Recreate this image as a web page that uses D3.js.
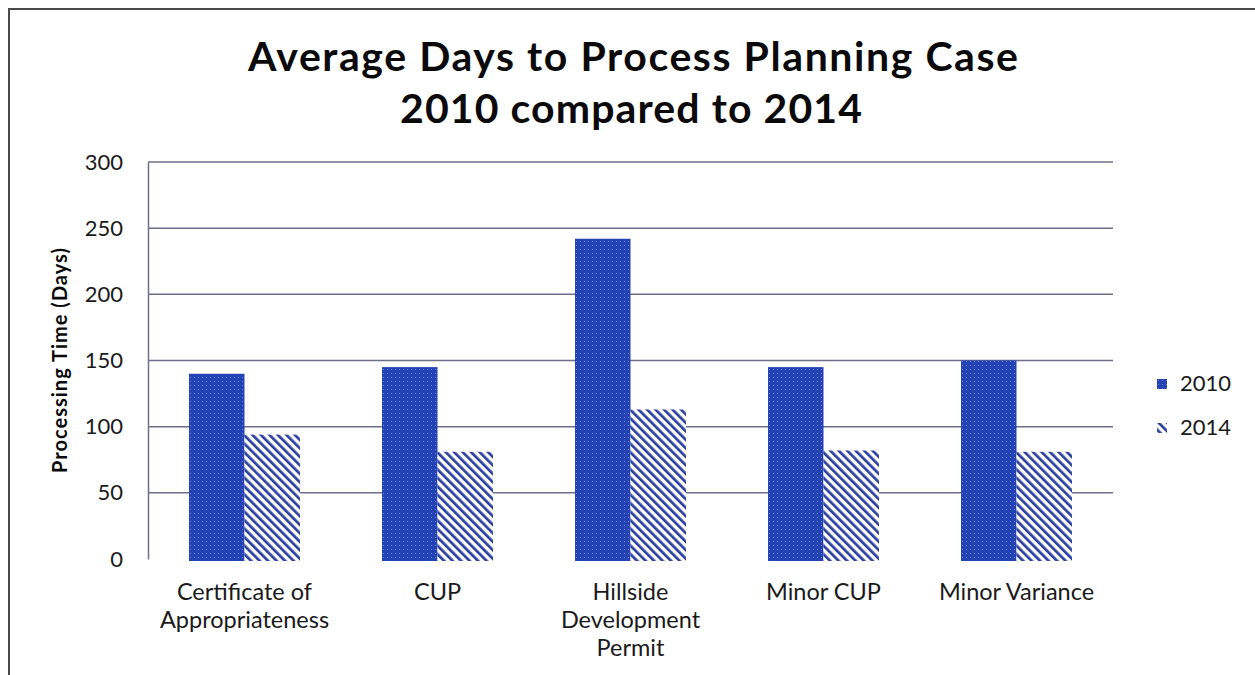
<!DOCTYPE html>
<html>
<head>
<meta charset="utf-8">
<script src="https://cdn.jsdelivr.net/npm/d3@7"></script>
<style>
  html, body { margin: 0; padding: 0; background: #fff; }
  svg { display: block; }
  text { font-family: Lato, "Open Sans", sans-serif; }
</style>
</head>
<body>
<svg id="chart" width="1255" height="675"></svg>
<script>
// Average processing days per planning case type
const categories = [
  ["Certificate of", "Appropriateness"],
  ["CUP"],
  ["Hillside", "Development", "Permit"],
  ["Minor CUP"],
  ["Minor Variance"]
];
const seriesNames = ["2010", "2014"];
const values2010 = [140, 145, 242, 145, 150];
const values2014 = [94, 81, 113, 82, 81];
const yTicks = [0, 50, 100, 150, 200, 250, 300];

const svg = d3.select("#chart");
const W = 1255, H = 675;

// pattern fills for the two series
const defs = svg.append("defs");
const dots = defs.append("pattern")
  .attr("id", "pat2010").attr("patternUnits", "userSpaceOnUse")
  .attr("width", 4).attr("height", 4);
dots.append("rect").attr("width", 4).attr("height", 4).attr("fill", "#2343b4");
dots.append("rect").attr("x", 1).attr("y", 1).attr("width", 1).attr("height", 1).attr("fill", "#6d86dc");

const hatch = defs.append("pattern")
  .attr("id", "pat2014").attr("patternUnits", "userSpaceOnUse")
  .attr("width", 6).attr("height", 6)
  .attr("patternTransform", "rotate(-45)");
hatch.append("rect").attr("width", 6).attr("height", 6).attr("fill", "#ffffff");
hatch.append("rect").attr("x", 0).attr("y", 0).attr("width", 2.7).attr("height", 6).attr("fill", "#2b3f9e");

// outer frame (top and left edges visible)
svg.append("rect")
  .attr("x", 9).attr("y", 9).attr("width", W + 20).attr("height", H + 20)
  .attr("fill", "none").attr("stroke", "#4a4a4a").attr("stroke-width", 2);

// title
const title = svg.append("text")
  .attr("text-anchor", "middle")
  .attr("font-weight", "bold").attr("font-size", 41).attr("fill", "#0a0a0a");
title.append("tspan").attr("x", 633).attr("y", 71)
  .attr("textLength", 770).attr("lengthAdjust", "spacing")
  .text("Average Days to Process Planning Case");
title.append("tspan").attr("x", 631).attr("y", 123)
  .attr("textLength", 462).attr("lengthAdjust", "spacing")
  .text("2010 compared to 2014");

const plot = { left: 148, right: 1113, top: 162, bottom: 559 };

const x0 = d3.scaleBand()
  .domain(d3.range(categories.length))
  .range([plot.left, plot.right])
  .paddingInner(0.425).paddingOuter(0.2125);
const x1 = d3.scaleBand()
  .domain(seriesNames)
  .range([0, x0.bandwidth()]);
const y = d3.scaleLinear().domain([0, 300]).range([plot.bottom, plot.top]);

// gridlines
svg.append("g")
  .selectAll("line").data(yTicks.filter(d => d > 0)).join("line")
  .attr("x1", plot.left).attr("x2", plot.right)
  .attr("y1", d => y(d)).attr("y2", d => y(d))
  .attr("stroke", "#6e6e8c").attr("stroke-width", 1.5);

// y axis
const yAxis = svg.append("g")
  .attr("transform", `translate(${plot.left},0)`)
  .call(d3.axisLeft(y).tickValues(yTicks).tickSize(0).tickPadding(25));
yAxis.select(".domain").attr("stroke", "#6e6e8c").attr("stroke-width", 1.5);
yAxis.selectAll("text")
  .attr("font-size", 22).attr("fill", "#1a1a1a")
  .style("font-family", "Lato, 'Open Sans', sans-serif");

// y axis title
svg.append("text")
  .attr("transform", `translate(67,${(plot.top + plot.bottom) / 2}) rotate(-90)`)
  .attr("text-anchor", "middle")
  .attr("font-weight", "bold").attr("font-size", 20).attr("fill", "#0a0a0a")
  .attr("textLength", 225).attr("lengthAdjust", "spacing")
  .text("Processing Time (Days)");

// bars
const rows = categories.map((c, i) => ({ i, vals: [values2010[i], values2014[i]] }));
const groups = svg.append("g").selectAll("g").data(rows).join("g")
  .attr("transform", d => `translate(${x0(d.i)},0)`);
groups.selectAll("rect")
  .data(d => d.vals.map((v, k) => ({ key: seriesNames[k], v })))
  .join("rect")
  .attr("x", d => x1(d.key))
  .attr("width", x1.bandwidth())
  .attr("y", d => y(d.v))
  .attr("height", d => y(0) - y(d.v) + 2)
  .attr("fill", d => d.key === "2010" ? "url(#pat2010)" : "url(#pat2014)");

// category labels
const catLabels = svg.append("g").selectAll("text").data(categories).join("text")
  .attr("text-anchor", "middle")
  .attr("font-size", 23.5).attr("fill", "#1a1a1a");
catLabels.each(function (lines, i) {
  const t = d3.select(this);
  lines.forEach((ln, j) => {
    t.append("tspan")
      .attr("x", x0(i) + x0.bandwidth() / 2)
      .attr("y", 600 + j * 28)
      .text(ln);
  });
});

// legend
const legend = svg.append("g").selectAll("g").data(seriesNames).join("g")
  .attr("transform", (d, i) => `translate(1157,${379 + i * 44})`);
legend.append("rect")
  .attr("width", 10).attr("height", 10)
  .attr("fill", d => d === "2010" ? "url(#pat2010)" : "url(#pat2014)");
legend.append("text")
  .attr("x", 23).attr("y", 12)
  .attr("font-size", 22).attr("fill", "#1a1a1a")
  .text(d => d);
</script>
</body>
</html>
